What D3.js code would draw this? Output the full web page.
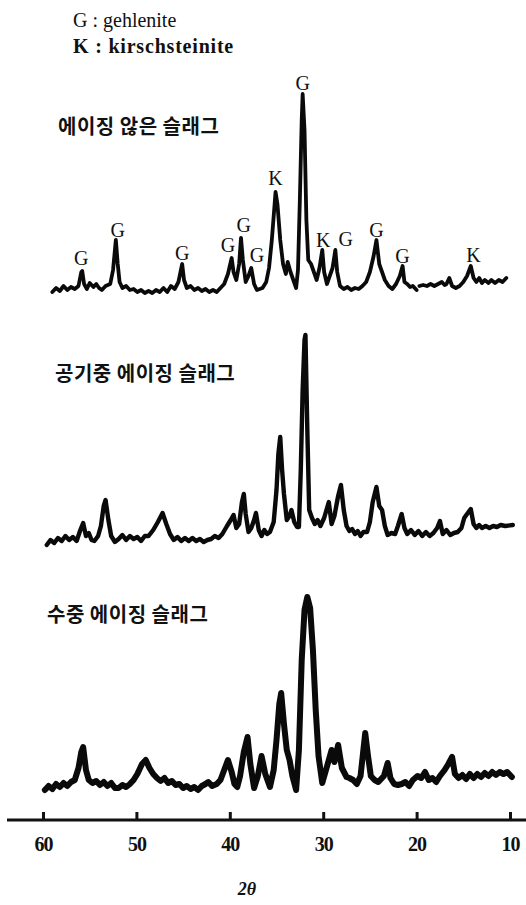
<!DOCTYPE html>
<html>
<head>
<meta charset="utf-8">
<script src="https://cdn.jsdelivr.net/npm/d3@7"></script>
<style>
  html, body { margin: 0; padding: 0; background: #fff; }
  svg { display: block; }
  .title { font-family: "Noto Sans CJK KR", sans-serif; font-weight: bold; font-size: 20px; letter-spacing: 0.5px; fill: #111; }
  .legend { font-family: "Liberation Serif", "DejaVu Serif", serif; font-size: 20px; fill: #111; }
  .peak { font-family: "Liberation Serif", "DejaVu Serif", serif; font-size: 20px; fill: #111; }
  .tick text { font-family: "Liberation Serif", "DejaVu Serif", serif; font-weight: bold; font-size: 20px; letter-spacing: -1px; fill: #111; }
  .xlabel { font-family: "Liberation Serif", "DejaVu Serif", serif; font-style: italic; font-weight: bold; font-size: 18px; fill: #111; }
</style>
</head>
<body>
<script>
// Diffraction angle (2θ) and relative intensity for each slag sample
const unagedAngle = [59.0,58.6,58.2,57.8,57.4,57.0,56.6,56.2,55.9,55.8,55.6,55.3,55.0,54.6,54.3,54.0,53.7,53.3,52.8,52.5,52.2,52.0,51.8,51.5,51.1,50.7,50.3,49.9,49.5,49.1,48.7,48.3,47.9,47.5,47.1,46.7,46.3,45.9,45.5,45.1,44.9,44.6,44.2,43.8,43.4,43.0,42.6,42.2,41.8,41.4,41.0,40.6,40.2,39.8,39.6,39.3,39.0,38.8,38.6,38.3,38.0,37.7,37.4,37.1,36.8,36.5,36.1,35.8,35.5,35.1,34.9,34.6,34.3,34.0,33.8,33.5,33.2,32.9,32.7,32.5,32.3,32.2,32.0,31.8,31.6,31.3,31.0,30.7,30.4,30.1,29.9,29.6,29.3,29.0,28.7,28.5,28.2,27.8,27.4,27.0,26.6,26.2,25.8,25.4,25.0,24.6,24.3,24.0,23.7,23.4,23.0,22.6,22.2,21.8,21.5,21.3,21.0,20.7,20.4,20.0,19.85,19.7,19.3,18.9,18.5,18.1,17.7,17.3,17.0,16.8,16.5,16.2,15.8,15.4,15.0,14.6,14.2,13.9,13.6,13.3,13.0,12.7,12.3,12.0,11.6,11.2,10.8,10.4];
const unagedCounts = [4,6,4.5,7,5,6.5,5.5,7,14,14.5,8,5.5,8.5,6.5,8,6,5,7,8,15,30,18,9,6,7,5,5.5,4,5,3.5,4.5,3.5,5,4,6,4,7,5.5,9,18,10,6,7,5,6,4.5,5.5,4,5,4,6,8,13,21,14,10,18,31,20,9,12,16,8,5,5.5,6,9,16,30,54,48,30,18,13,19,14,10,6,15,50,90,103,85,40,20,18,14,10,16,25,14,8,12,16,25,14,7,5.5,6.5,5,6,5.5,7,9,14,22,30,18,14,10,7,5.5,8,12,17,9,8,6.5,7,5,null,7,7.5,7,8,7,8,9,7.5,8,11,7,6,7,9,12,17,11,9,11,8.5,10,8.5,10,8.5,10,9,11];

const airAngle = [59.6,59.2,58.8,58.4,58.0,57.6,57.2,56.8,56.4,56.0,55.7,55.4,55.1,54.8,54.5,54.1,53.8,53.5,53.3,53.0,52.7,52.3,51.9,51.5,51.1,50.7,50.3,49.9,49.5,49.1,48.7,48.2,47.7,47.2,46.8,46.4,46.0,45.6,45.2,44.8,44.4,44.0,43.6,43.2,42.8,42.4,42.0,41.6,41.2,40.8,40.3,39.9,39.6,39.3,39.0,38.7,38.5,38.3,38.0,37.7,37.4,37.2,36.9,36.6,36.3,36.0,35.7,35.3,35.0,34.8,34.6,34.4,34.2,33.9,33.6,33.4,33.1,32.8,32.6,32.4,32.2,32.0,31.9,31.7,31.5,31.2,30.9,30.6,30.3,29.9,29.4,29.1,28.8,28.4,28.1,27.8,27.5,27.2,26.9,26.6,26.3,26.0,25.7,25.3,25.0,24.7,24.3,24.0,23.7,23.4,23.1,22.7,22.3,22.0,21.6,21.3,21.0,20.6,20.2,19.8,19.4,19.0,18.6,18.2,17.8,17.5,17.2,16.8,16.4,16.0,15.6,15.2,14.9,14.6,14.2,13.9,13.6,13.3,13.0,12.6,12.2,11.8,11.4,11.0,10.5,9.7];
const airCounts = [2.5,5,3.5,6,4.5,7,5,6.5,4.5,10,13.5,7,8.5,5,4.5,7,12,22,25,15,7,4,5.5,7.5,5,7,5.5,6.5,4.5,7,7,10,14,18.5,13,8,5,6.5,4.5,6,4.5,6,4.5,5.5,4,5,5.5,7,6,8,12,15,17.5,11,13,24,28,18,9,11,15,18.5,10,7,10,8,9,14,30,48,56.5,40,28,15,17,20,14,11.5,11.5,40,80,105,107.5,60,20,16,13,15,12,16,24,13,17,27,32.5,20,12,9.5,10.5,8,9.5,7,9,9,14,24,31.5,22,20,12,7.5,8.5,8,12,18,11,8,10,7.5,9.5,7,9,7,8.5,11,14.5,8,10,7.5,8.5,9,11,16,18,20.5,13,11,12.5,11,12,11,12,11.5,12.5,12,12.5];

const waterAngle = [59.8,59.4,59.0,58.6,58.2,57.8,57.4,57.0,56.6,56.2,55.9,55.7,55.4,55.1,54.7,54.3,53.9,53.5,53.1,52.7,52.3,51.9,51.5,51.1,50.7,50.3,49.9,49.4,49.0,48.6,48.2,47.8,47.4,47.0,46.6,46.2,45.8,45.4,45.0,44.6,44.2,43.8,43.4,43.0,42.6,42.3,41.9,41.4,41.0,40.6,40.2,39.8,39.5,39.2,38.9,38.5,38.1,37.8,37.4,37.0,36.6,36.2,35.7,35.3,35.0,34.7,34.5,34.2,33.9,33.6,33.3,32.9,32.6,32.3,32.0,31.7,31.4,31.1,30.8,30.5,30.1,29.7,29.1,28.8,28.4,28.0,27.5,27.2,26.8,26.4,26.0,25.7,25.5,25.2,24.9,24.5,24.1,23.5,23.1,22.8,22.4,22.0,21.6,21.2,20.8,20.4,19.9,19.5,19.1,18.7,18.3,17.9,17.5,17.0,16.6,16.2,15.9,15.5,15.1,14.7,14.3,13.9,13.5,13.1,12.7,12.3,11.9,11.5,11.1,10.7,10.3,9.8];
const waterCounts = [5,7,5.5,8,6.5,8.5,7,9,10,16,24,26.5,15,10,8.5,9.5,7.5,9,7,8.5,6,6,7.5,6.5,8,10,13,18,20,16,13,11,9.5,11,8.5,9.5,7.5,8,6,7,5.5,6.5,5,7,8,9,7,8,10,15,20,14,8,6.5,12,24,31.5,18,6,12,22,13,6.5,15,30,48,53.5,38,25,20,12,5,25,70,95,101.5,96,75,45,22,8.5,15,25,19,27.5,16,11.5,11,10,8,12,25,33.5,22,12,10,9,12,18.5,11,8,7.5,8,9,7,10,12,11,14,10,11,9,12,15,18,21.5,13,11,12.5,10.5,13,11,13,11.5,13.5,12,14,12.5,14,13,14,11.5];

// Phase identification marks on the unaged sample
const peakPhase = ["G","G","G","G","G","G","K","G","K","G","G","G","K"];
const peakAngle = [55.9,52.0,45.1,40.2,38.5,37.1,35.1,32.2,30.0,27.6,24.3,21.5,13.9];
const peakLabelCounts = [17.5,31.5,20,24,34,19,57.5,105,26.5,27,31.5,18.5,19];

const sampleNames = ["에이징 않은 슬래그", "공기중 에이징 슬래그", "수중 에이징 슬래그"];
const legendLines = ["G : gehlenite", "K : kirschsteinite"];
const angleTicks = [60, 50, 40, 30, 20, 10];
const axisTitle = "2θ";

const W = 526, H = 905;
const svg = d3.select("body").append("svg").attr("width", W).attr("height", H);

const x = d3.scaleLinear().domain([60, 10]).range([43, 510]);

const samples = [
  { angle: unagedAngle, counts: unagedCounts, base: 300, width: 3.8, titleX: 58, titleY: 125 },
  { angle: airAngle, counts: airCounts, base: 550, width: 4.4, titleX: 55, titleY: 372 },
  { angle: waterAngle, counts: waterCounts, base: 800, width: 6, titleX: 47, titleY: 613 }
];

// Legend
svg.selectAll("text.legend").data(legendLines).enter().append("text")
  .attr("class", "legend")
  .attr("x", 73).attr("y", (d, i) => 27 + i * 26)
  .attr("font-weight", (d, i) => i === 1 ? "bold" : "normal")
  .attr("letter-spacing", (d, i) => i === 1 ? "0.8px" : "0px")
  .text(d => d);

samples.forEach((s, k) => {
  const y = d3.scaleLinear().domain([0, 100]).range([s.base, s.base - 200]);
  const pts = s.angle.map((a, i) => [a, s.counts[i]]);
  const line = d3.line()
    .defined(d => d[1] !== null)
    .x(d => x(d[0])).y(d => y(d[1]))
    .curve(d3.curveLinear);
  svg.append("path").datum(pts)
    .attr("d", line)
    .attr("fill", "none")
    .attr("stroke", "#0a0a0a")
    .attr("stroke-width", s.width)
    .attr("stroke-linejoin", "round")
    .attr("stroke-linecap", "round");

  svg.append("text").attr("class", "title")
    .attr("x", s.titleX).attr("y", s.titleY)
    .attr("dominant-baseline", "central")
    .text(sampleNames[k]);

  if (k === 0) {
    svg.selectAll("text.peak").data(peakPhase).enter().append("text")
      .attr("class", "peak")
      .attr("text-anchor", "middle")
      .attr("x", (d, i) => x(peakAngle[i]))
      .attr("y", (d, i) => y(peakLabelCounts[i]))
      .text(d => d);
  }
});

// 2θ axis with ticks pointing up
const axisY = 820;
const axis = d3.axisBottom(x).tickValues(angleTicks).tickFormat(d3.format("d"))
  .tickSizeInner(-8).tickSizeOuter(0).tickPadding(17);
const g = svg.append("g").attr("transform", `translate(0,${axisY})`).call(axis);
g.select(".domain").remove();
g.selectAll(".tick line").attr("stroke", "#111").attr("stroke-width", 3);
svg.append("line").attr("x1", 7).attr("x2", W).attr("y1", axisY).attr("y2", axisY)
  .attr("stroke", "#111").attr("stroke-width", 3);

svg.append("text").attr("class", "xlabel")
  .attr("x", 247).attr("y", 895).attr("text-anchor", "middle")
  .text(axisTitle);
</script>
</body>
</html>
